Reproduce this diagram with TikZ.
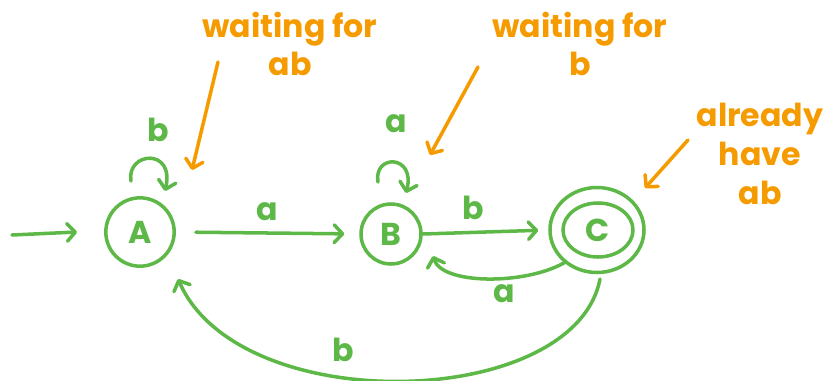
\documentclass[tikz,border=0pt]{standalone}
\usepackage{fontspec}
\setmainfont{Poppins}
\usetikzlibrary{arrows.meta,shapes.geometric}
\definecolor{grn}{HTML}{5DB847}
\definecolor{org}{HTML}{F59B00}
\tikzset{
  state/.style={circle,draw=grn,line width=3pt,minimum size=2.0cm,inner sep=0pt,text=grn,font=\fontsize{27}{30}\selectfont\bfseries},
  garr/.style={draw=grn,line width=3pt,line cap=round,line join=round,-{Straight Barb[length=7pt,width=15pt,line cap=round,line join=round]}},
  oarr/.style={draw=org,line width=3pt,line cap=round,line join=round,-{Straight Barb[length=7pt,width=15pt,line cap=round,line join=round]}},
  glab/.style={text=grn,font=\fontsize{27}{30}\selectfont\bfseries,inner sep=0pt},
  olab/.style={text=org,font=\fontsize{27}{33}\selectfont\bfseries,inner sep=0pt,align=center}
}
\begin{document}
\begin{tikzpicture}[x=0.03cm,y=-0.03cm]
\useasboundingbox (0,0) rectangle (835,380);
% states
\node[state,minimum size=2.05cm] (A) at (140,232) {A};
\node[state,minimum size=1.8cm] (B) at (391,234) {B};
\node[ellipse,draw=grn,line width=3pt,minimum width=2.82cm,minimum height=2.55cm,inner sep=0pt] (C) at (597,230) {};
\node[ellipse,draw=grn,line width=3pt,minimum width=2.1cm,minimum height=1.62cm,inner sep=0pt,text=grn,font=\fontsize{27}{30}\selectfont\bfseries] (Cin) at (598,230) {C};
% initial
\coordinate (init) at (12,235);
\draw[garr] (init) -- ([xshift=-27*0.03cm]A.west);
% transitions
\draw[garr,shorten <=0.6cm,shorten >=0.45cm] (A.east) -- node[glab,above=9pt,pos=0.5] (lab) {a} (B.west);
\draw[garr,shorten >=0.3cm] (B.east) -- node[glab,above=9pt,pos=0.4] (lbc) {b} (C.west);
% loops
\draw[garr] ([shift={(-9,-51)}]A.center) .. controls ([shift={(-14,-80)}]A.center) and ([shift={(35,-85)}]A.center) .. ([shift={(25,-41)}]A.center);
\node[glab] (lal) at (158,130) {b};
\draw[garr] ([shift={(-13,-52)}]B.center) .. controls ([shift={(-18,-80)}]B.center) and ([shift={(25,-80)}]B.center) .. ([shift={(15,-41)}]B.center);
\node[glab] (lbl) at (396,124) {a};
% C -> B
\draw[garr] (C.225) .. controls (525,285) and (442,285) .. ([shift={(42,22)}]B.center);
\node[glab] (lcb) at (504,294) {a};
% C -> A
\draw[garr] ([shift={(3,49)}]C.center) .. controls (575,410) and (240,420) .. ([shift={(38,47)}]A.center);
\node[glab] (lca) at (343,350) {b};
% annotations
\node[olab] (t1) at (290,44) {waiting for\\ab};
\coordinate (t1e) at (192,170);
\draw[oarr] (218,62) -- (t1e);
\node[olab] (t2) at (580,44) {waiting for\\b};
\coordinate (t2e) at (430,155);
\draw[oarr] (478,67) -- (t2e);
\node[olab] (t3) at (760,154) {already\\have\\ab};
\coordinate (t3e) at (645,188);
\draw[oarr] (688,140) -- (t3e);
\end{tikzpicture}
\end{document}
